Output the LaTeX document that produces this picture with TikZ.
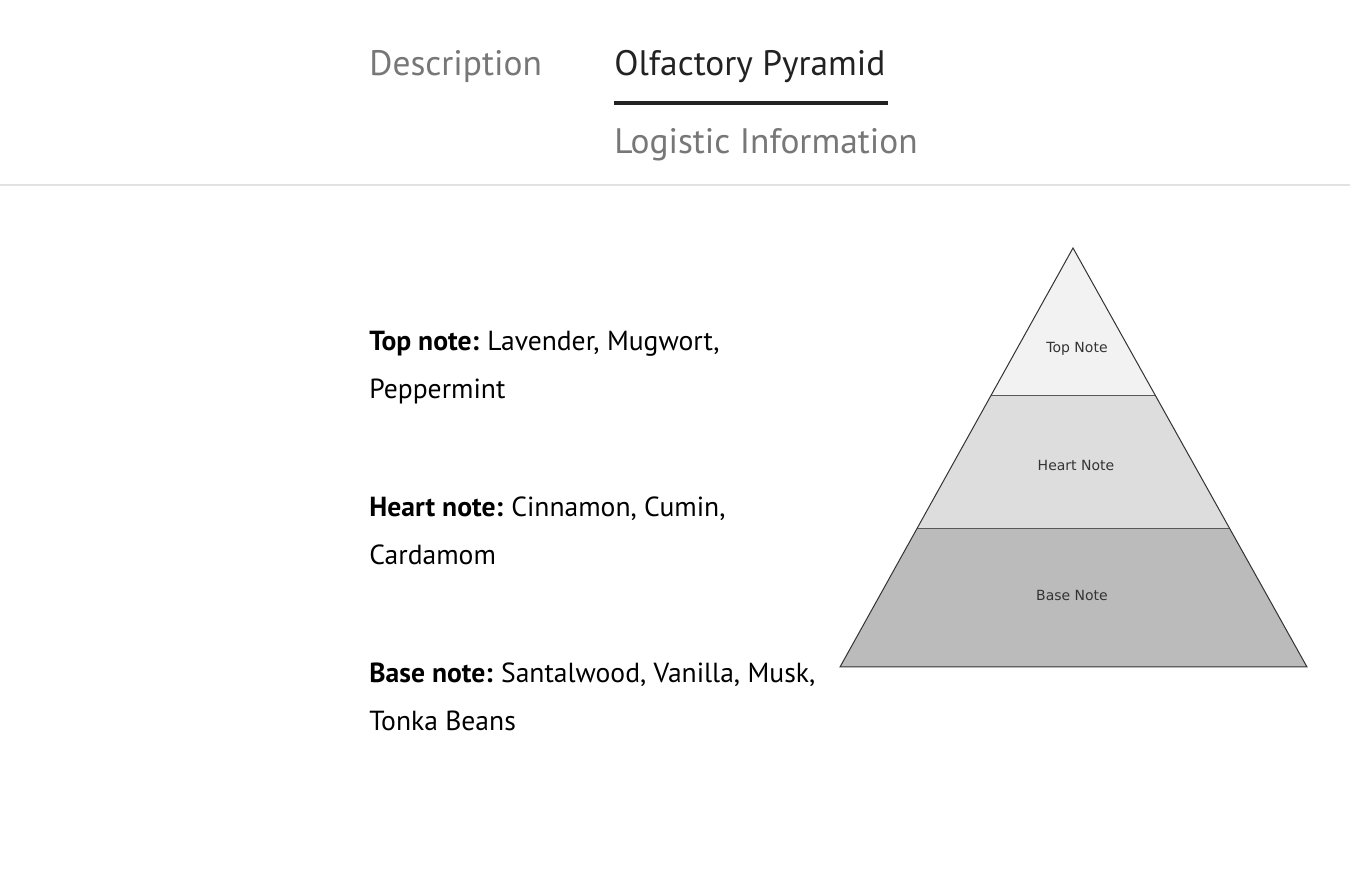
\documentclass[tikz,border=0pt]{standalone}
\usepackage{fontspec}
\setmainfont{PT Sans}
\newfontfamily\labelfont{DejaVu Sans}
\usepackage{tikz}
\definecolor{tabgray}{HTML}{777777}
\definecolor{tabdark}{HTML}{222222}
\definecolor{rulegray}{HTML}{E2E2E2}
\definecolor{topfill}{HTML}{F2F2F2}
\definecolor{heartfill}{HTML}{DDDDDD}
\definecolor{basefill}{HTML}{BBBBBB}
\definecolor{edgegray}{HTML}{333333}
\tikzset{
  tab/.style={anchor=base west,inner sep=0pt,font=\fontsize{17.7}{20}\selectfont},
  notetext/.style={anchor=base west,inner sep=0pt,font=\fontsize{13.8}{16}\selectfont},
  layerlabel/.style={inner sep=0pt,text=edgegray,font=\labelfont\fontsize{7}{8}\selectfont}
}
\newcommand{\notehead}[1]{\textbf{#1}\hspace{0.3em}}
\begin{document}
\begin{tikzpicture}[x=0.5pt,y=-0.5pt]
\useasboundingbox[fill=white] (0,0) rectangle (1350,870);
%tabs
\node [tab,text=tabgray] (desc) at(369,76){Description};
\node [tab,text=tabdark] (olf) at(614,76){Olfactory Pyramid};
\node [tab,text=tabgray] (logi) at(614,154){Logistic Information};
\draw [tabdark,line width=2pt] (614,103) -- (888,103);
\draw [rulegray,line width=1pt] (0,185) -- (1350,185);
%notes
\node [notetext] (top1) at(369,351){\notehead{Top note:}Lavender, Mugwort,};
\node [notetext] (top2) at(369,399){Peppermint};
\node [notetext] (heart1) at(369,517){\notehead{Heart note:}Cinnamon, Cumin,};
\node [notetext] (heart2) at(369,565){Cardamom};
\node [notetext] (base1) at(369,683){\notehead{Base note:}Santalwood, Vanilla, Musk,};
\node [notetext] (base2) at(369,731){Tonka Beans};
%pyramid
\coordinate (apex) at(1073,248);
\coordinate (tl) at(991,396);
\coordinate (tr) at(1156,396);
\coordinate (hl) at(917,529);
\coordinate (hr) at(1230,529);
\coordinate (bl) at(840,667);
\coordinate (br) at(1307,667);
\fill [topfill] (apex) -- (tl) -- (tr) -- cycle;
\fill [heartfill] (tl) -- (hl) -- (hr) -- (tr) -- cycle;
\fill [basefill] (hl) -- (bl) -- (br) -- (hr) -- cycle;
\draw [gray!70!black,line width=0.5pt] (tl) -- (tr);
\draw [gray!70!black,line width=0.5pt] (hl) -- (hr);
\draw [edgegray,line width=0.5pt,line join=miter] (apex) -- (bl) -- (br) -- cycle;
\node [layerlabel] (toplbl) at(1077,349){Top Note};
\node [layerlabel] (heartlbl) at(1076,466){Heart Note};
\node [layerlabel] (baselbl) at(1072,596){Base Note};
\end{tikzpicture}
\end{document}
